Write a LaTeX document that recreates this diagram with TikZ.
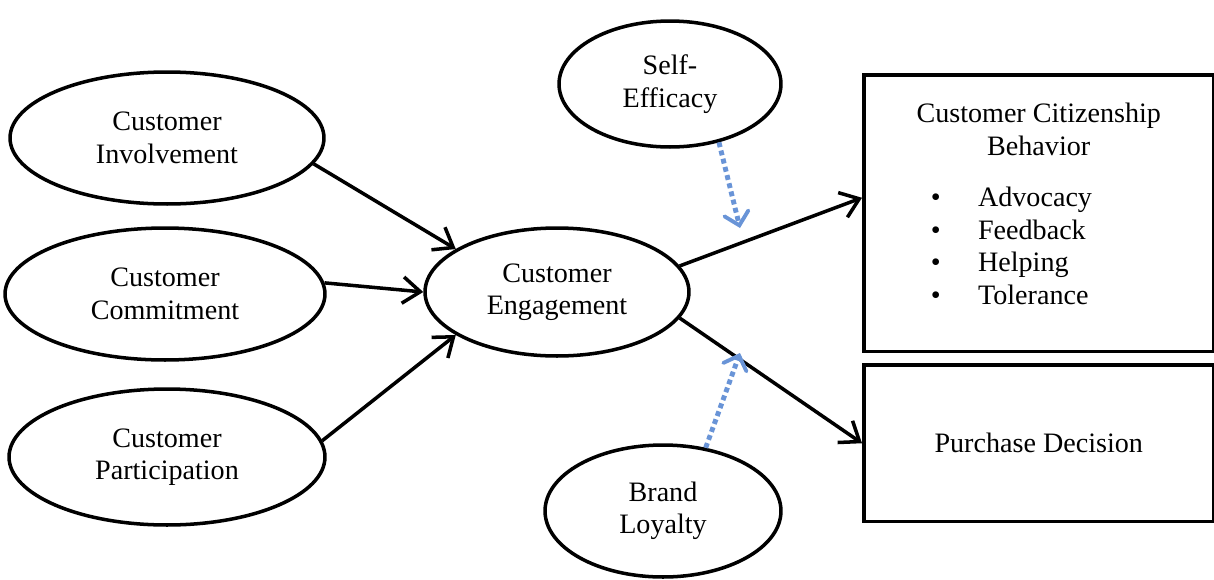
\documentclass[tikz,border=0pt]{standalone}
\usepackage{fontspec}
\setmainfont{Liberation Serif}
\usepackage{tikz}
\usetikzlibrary{arrows.meta,shapes.geometric,positioning}
\definecolor{modblue}{RGB}{105,148,215}

\begin{document}
\begin{tikzpicture}[x=0.02cm, y=-0.02cm, line width=2pt,
    construct/.style={draw, ellipse, inner sep=0pt, align=center,
      font=\fontsize{16}{18.5}\selectfont},
    outcome/.style={draw, rectangle, inner sep=0pt, anchor=north west,
      font=\fontsize{16}{18.5}\selectfont},
    path/.style={-{Straight Barb[length=10pt,width=15pt,line width=2pt]}},
    moderator/.style={draw=modblue, line width=2.8pt, dotted,
      -{Straight Barb[length=7pt,width=14pt,line width=2.2pt,line cap=round]}}]
  \useasboundingbox (0,0) rectangle (1214,579);
  % antecedents
  \node[construct, minimum width=6.28cm, minimum height=2.64cm] (inv) at (167,138) {Customer\\Involvement};
  \node[construct, minimum width=6.40cm, minimum height=2.64cm] (com) at (165,294) {Customer\\Commitment};
  \node[construct, minimum width=6.32cm, minimum height=2.72cm] (par) at (167,457) {Customer\\Participation};
  % mediator and moderators
  \node[construct, minimum width=5.28cm, minimum height=2.56cm] (eng) at (557,292) {Customer\\Engagement};
  \node[construct, minimum width=4.44cm, minimum height=2.52cm] (self) at (670,84) {Self-\\Efficacy};
  \node[construct, minimum width=4.72cm, minimum height=2.64cm] (brand) at (663,511) {Brand\\Loyalty};
  % outcomes
  \node[outcome, minimum width=7.00cm, minimum height=5.54cm] (ccb) at (862,73) {};
  \node[outcome, minimum width=7.00cm, minimum height=3.14cm] (pd) at (862,363) {Purchase Decision};
  \node[font=\fontsize{16}{18.5}\selectfont, align=center, below=0.45cm of ccb.north] (ccbtitle)
    {Customer Citizenship\\Behavior};
  \node[font=\fontsize{16}{18.5}\selectfont, anchor=north west, inner sep=0pt] (ccblist) at (929,182)
    {\begin{tabular}{@{}l@{\hspace{0.75cm}}l@{}}
      \textbullet & Advocacy\\
      \textbullet & Feedback\\
      \textbullet & Helping\\
      \textbullet & Tolerance
    \end{tabular}};
  % structural paths
  \draw[path] (inv.-10) -- (eng.157);
  \draw[path] (com.4) -- (eng.180);
  \draw[path] (par.6) -- (eng.203);
  \draw[path] (eng.12) -- (ccb.175);
  \draw[path] (eng.-12) -- (pd.west);
  % moderating effects
  \coordinate (selfhit) at (740,228);
  \coordinate (brandhit) at (740,353);
  \draw[moderator] (self.-50) -- (selfhit);
  \draw[moderator] (brand.56) -- (brandhit);
\end{tikzpicture}
\end{document}
